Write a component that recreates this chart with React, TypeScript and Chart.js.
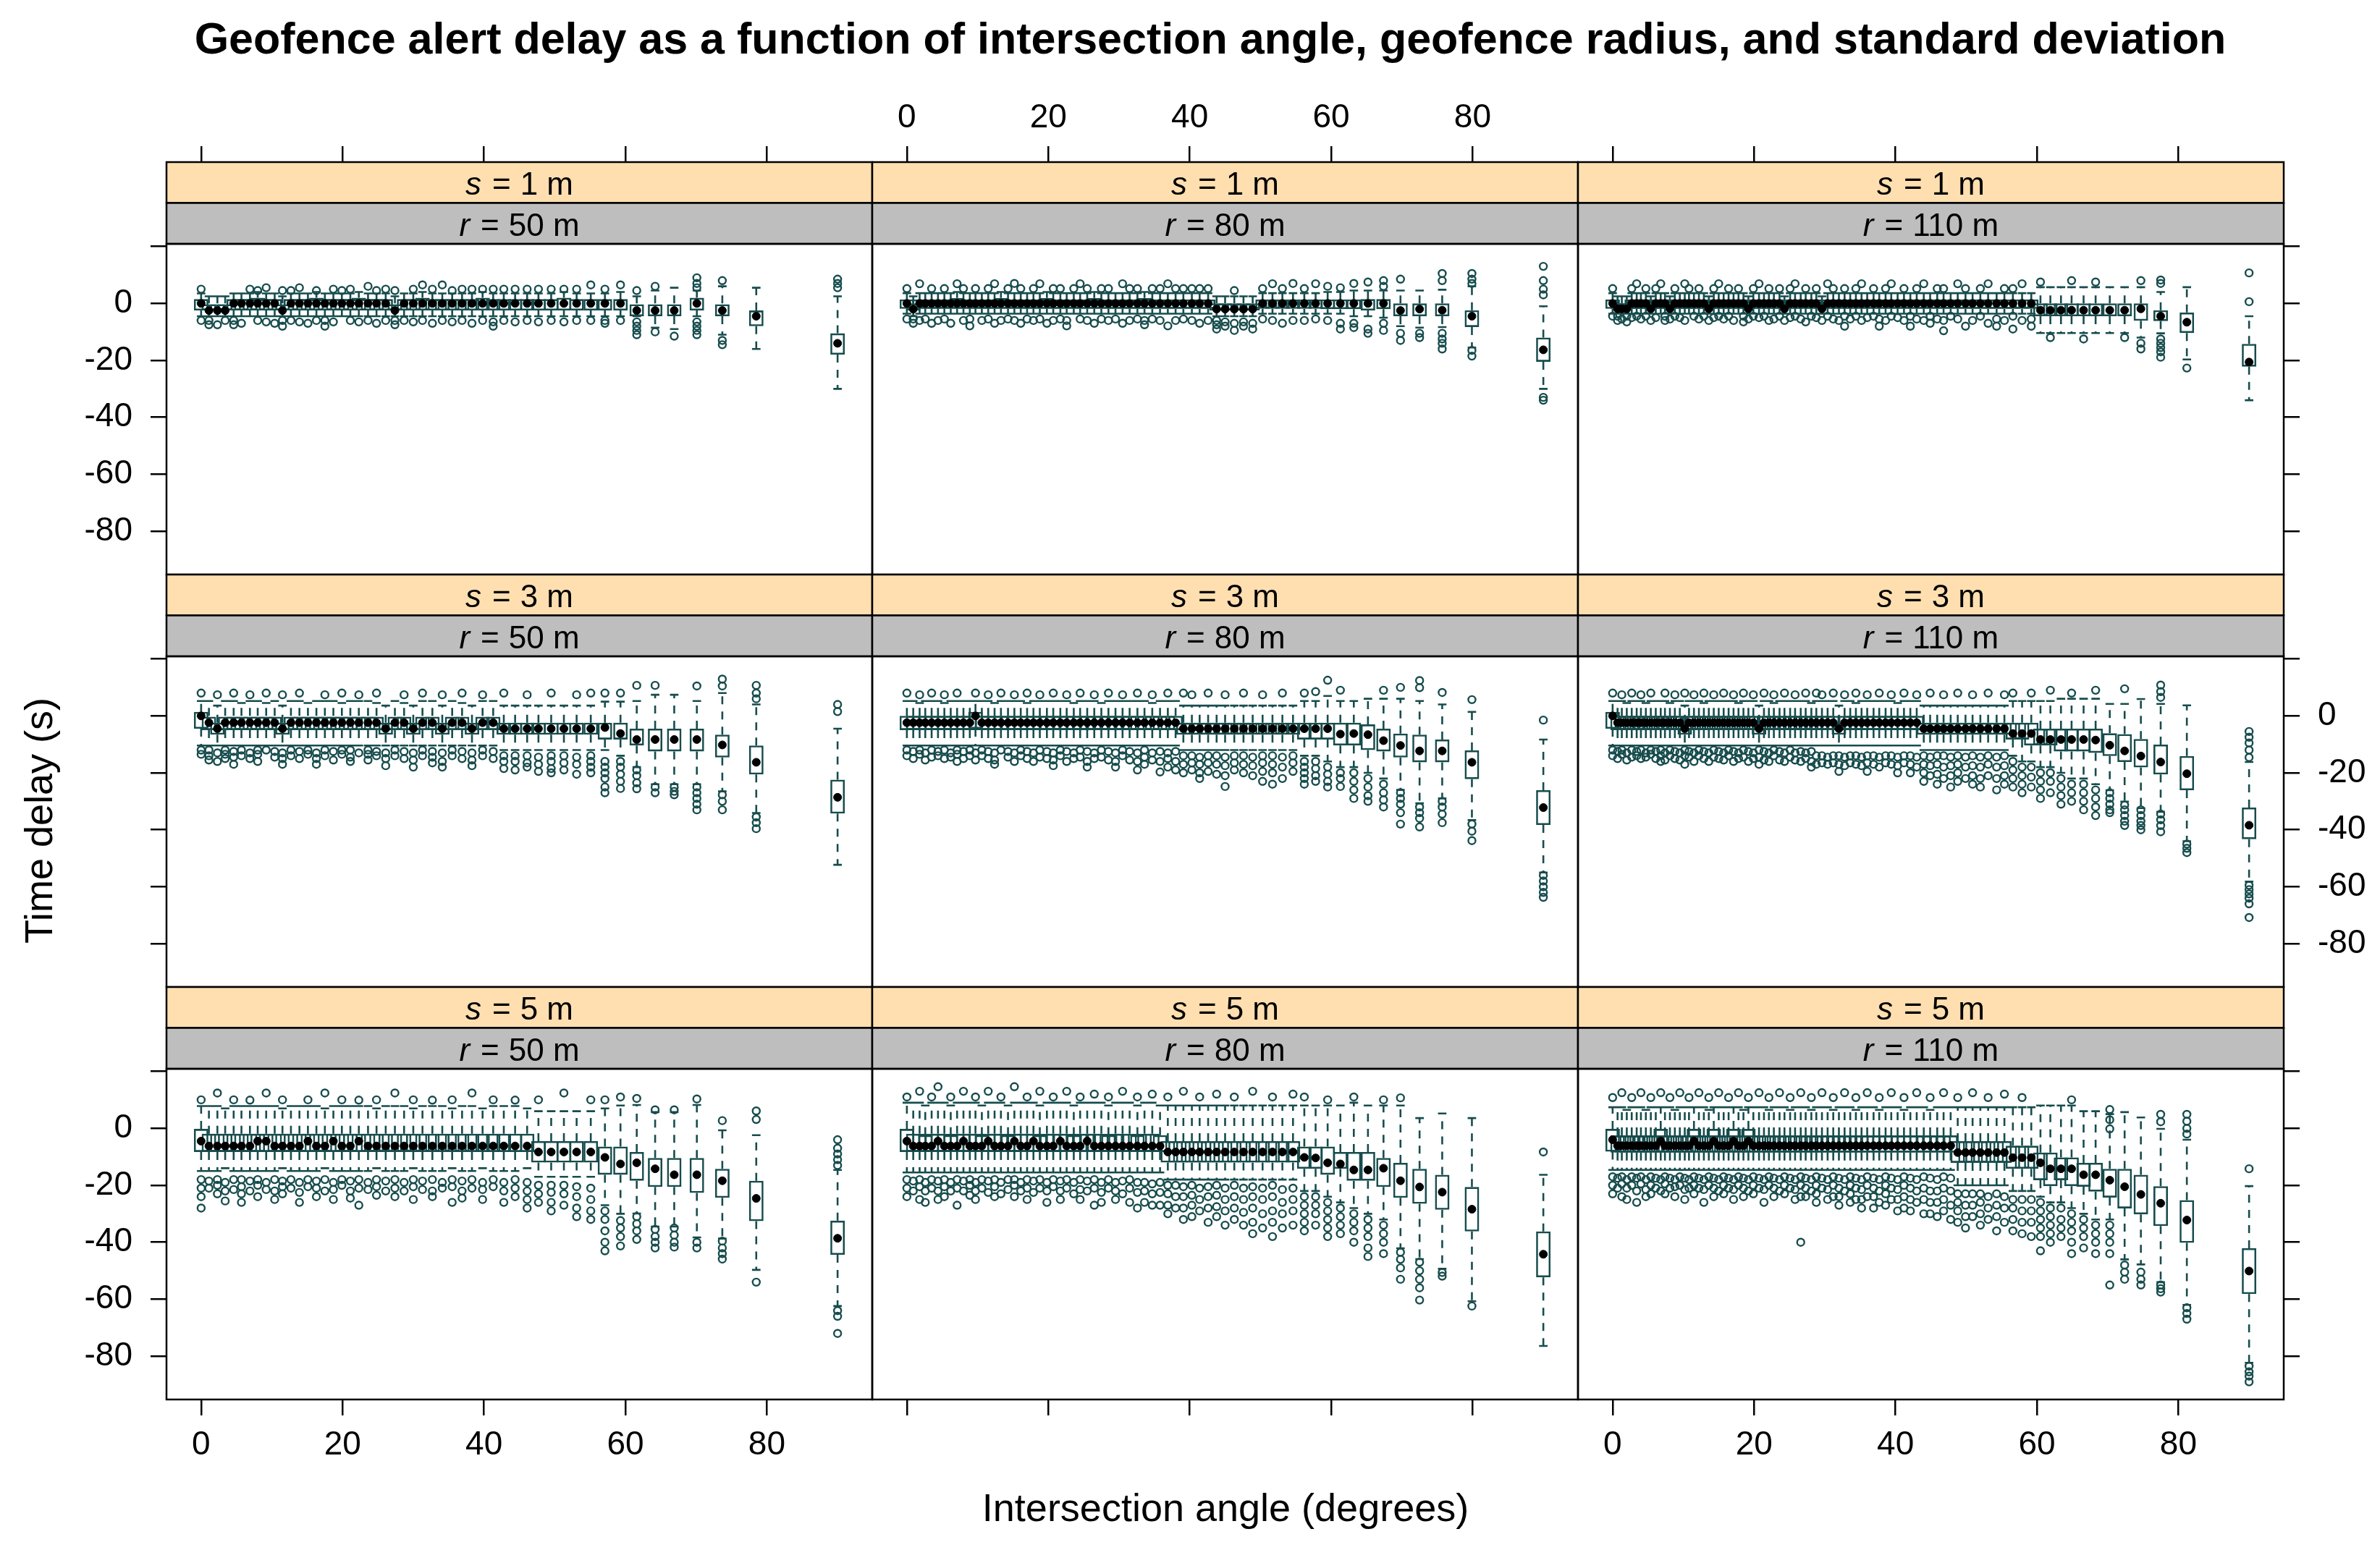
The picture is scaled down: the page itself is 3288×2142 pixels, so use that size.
import React, { useEffect, useRef } from 'react';
import { Chart, registerables } from 'chart.js';

Chart.register(...registerables);

const FONT = "'Liberation Sans', Arial, Helvetica, sans-serif";
const TEAL = '#174C4D';
const STRIP_S_BG = '#FFDFB0';
const STRIP_R_BG = '#BEBEBE';

// ---- layout (px) ----
const PLOT_W = 975;
const PLOT_H = 457;
const STRIP_H = 56.5;
const PLOT_LEFT0 = 230;
const PLOT_TOP0 = 337;
const ROW_PITCH = PLOT_H + 2 * STRIP_H;
const M_L = 140, M_R = 140, M_T = 213, M_B = 100;
const CANVAS_W = PLOT_W + M_L + M_R;
const CANVAS_H = PLOT_H + M_T + M_B;
const BOX_PX = 20;
const CAP_HALF = 0.6;

// ---- axes ----
const X_MIN = -4.9, X_MAX = 94.9;
const Y_MIN = -95.2, Y_MAX = 20.9;
const X_TICKS = [0, 20, 40, 60, 80];
const Y_TICKS = [20, 0, -20, -40, -60, -80];

const SD_LABELS = ['1', '3', '5'];
const RADIUS_LABELS = ['50', '80', '110'];

// ---- intersection angle categories (degrees) ----
const ANGLES_R50 = [0, 1.1, 2.3, 3.4, 4.6, 5.7, 6.9, 8.0, 9.2, 10.4, 11.5, 12.7, 13.9, 15.1, 16.3, 17.5, 18.7, 19.9, 21.1, 22.3, 23.6, 24.8, 26.1, 27.4, 28.7, 30.0, 31.3, 32.7, 34.1, 35.5, 36.9, 38.3, 39.8, 41.3, 42.8, 44.4, 46.1, 47.7, 49.5, 51.3, 53.1, 55.1, 57.1, 59.3, 61.6, 64.2, 66.9, 70.1, 73.7, 78.5, 90];
const ANGLES_R80 = [0, 0.9, 1.8, 2.6, 3.5, 4.4, 5.3, 6.2, 7.1, 8.0, 8.9, 9.7, 10.6, 11.5, 12.4, 13.3, 14.3, 15.2, 16.1, 17.0, 17.9, 18.8, 19.8, 20.7, 21.7, 22.6, 23.6, 24.5, 25.5, 26.5, 27.5, 28.5, 29.5, 30.5, 31.5, 32.6, 33.6, 34.7, 35.8, 36.9, 38.0, 39.1, 40.3, 41.4, 42.6, 43.8, 45.0, 46.3, 47.6, 48.9, 50.3, 51.7, 53.1, 54.6, 56.2, 57.8, 59.5, 61.3, 63.2, 65.2, 67.4, 69.8, 72.5, 75.7, 79.9, 90];
const ANGLES_R110 = [0, 0.7, 1.3, 2.0, 2.7, 3.4, 4.0, 4.7, 5.4, 6.1, 6.8, 7.4, 8.1, 8.8, 9.5, 10.2, 10.8, 11.5, 12.2, 12.9, 13.6, 14.3, 15.0, 15.7, 16.4, 17.1, 17.8, 18.5, 19.2, 19.9, 20.7, 21.4, 22.1, 22.8, 23.6, 24.3, 25.1, 25.8, 26.6, 27.3, 28.1, 28.8, 29.6, 30.4, 31.2, 32.0, 32.8, 33.6, 34.4, 35.2, 36.0, 36.9, 37.7, 38.6, 39.4, 40.3, 41.2, 42.1, 43.0, 44.0, 44.9, 45.9, 46.8, 47.8, 48.8, 49.9, 50.9, 52.0, 53.1, 54.3, 55.4, 56.6, 57.9, 59.2, 60.5, 61.9, 63.4, 64.9, 66.6, 68.3, 70.3, 72.4, 74.7, 77.5, 81.2, 90];

// ---- box statistics per panel: [lower whisker, Q1, median, Q3, upper whisker] ----
const S1_R50 = [
  [-4.5,-2.5,0,1.5,3.5],[-4.5,-2.5,-2.5,0,2.5],[-4.5,-2.5,-2.5,0,2.5],[-4.5,-2.5,-2.5,0,2.5],[-4.5,-2.5,0,1.5,3.5],[-4.5,-2.5,0,1.5,3.5],
  [-4.5,-2.5,0,1.5,3.5],[-4.5,-2.5,0,2,4],[-4.5,-2.5,0,1.5,3.5],[-4.5,-2.5,0,1.5,3.5],[-4.5,-2.5,-2.5,0,2.5],[-4.5,-2.5,0,1.5,3.5],
  [-4.5,-2.5,0,1.5,3.5],[-4.5,-2.5,0,1.5,3.5],[-4.5,-2.5,0,2,4],[-4.5,-2.5,0,1.5,3.5],[-4.5,-2.5,0,1.5,3.5],[-4.5,-2.5,0,1.5,3.5],
  [-4.5,-2.5,0,1.5,3.5],[-4.5,-2.5,0,2,4],[-4.5,-2.5,0,1.5,3.5],[-4.5,-2.5,0,1.5,3.5],[-4.5,-2.5,0,1.5,3.5],[-4.5,-2.5,-2.5,0,2.5],
  [-4.5,-2.5,0,1.5,3.5],[-4.5,-2.5,0,1.5,3.5],[-4.5,-2.5,0,2,4],[-4.5,-2.5,0,1.5,3.5],[-4.5,-2.5,0,1.5,3.5],[-4.5,-2.5,0,1.5,3.5],
  [-4.5,-2.5,0,1.5,3.5],[-4.5,-2.5,0,1.5,3.5],[-4.5,-2.5,0,2,4],[-4.5,-2.5,0,1.5,3.5],[-4.5,-2.5,0,1.5,3.5],[-4.5,-2.5,0,1.5,3.5],
  [-4.5,-2.5,0,1.5,3.5],[-4.5,-2.5,0,1.5,3.5],[-4.5,-2.5,0,1.5,3.5],[-4.5,-2.5,0,2,4],[-4.5,-2.5,0,1.5,3.5],[-4.5,-2.5,0,1.5,3.5],
  [-4.5,-2.5,0,1.5,3.5],[-4.5,-2.5,0,1.5,4],[-4.5,-4.5,-2.5,0,2.5],[-8.5,-4.5,-2.5,0,4.5],[-9,-4.5,-2.5,0,5.5],[-4.5,-2.5,0,2,4.5],
  [-11,-4.5,-2.5,0,6],[-16,-8,-4.5,-2.5,5.5],[-30,-18,-14,-10.5,2.5],
];
const S1_R50_OUT = [
  [5,-6],[-6,-7.5],[-7.5],[-6],[-6,-7.5],[-7],
  [5],[4.5,-6],[5.5,-6.5],[-7],[4.5,-6,-8],[4.5,-6],
  [5.5,-6.5],[-7],[4.5,-6],[-6,-8],[5,-6.5],[4.5],
  [5,-6],[-6.5],[6,-6],[4.5,-7],[5,-6],[4.5,-6,-7.5],
  [-6],[5,-6.5],[6.5,-6],[5,-7],[6.5,-6],[4.5,-6.5],
  [5,-6],[5,-7],[5,-6],[5,-6.5,-8],[5,-6],[5,-6.5],
  [5,-6],[5,-6.5],[5,-6],[5,-6.5],[5,-6],[6.5,-6],
  [5,-6,-7],[6.5,-6],[4.5,-6.5,-8,-9.5,-11],[6,-10],[-11.5],[9,7,5.5,-6.5,-8,-9.5,-11],
  [8,-13,-14.5],[],[8.5,7,5.5],
];

const S1_R80 = [
  [-3.6,-1.9,0,1.4,3.6],[-4.5,-2.5,-2,0,2.5],[-3.6,-1.9,0,1.4,3.6],[-3.6,-1.9,0,1.4,3.6],[-3.6,-1.9,0,1.4,3.6],[-3.6,-1.9,0,1.4,3.6],
  [-3.6,-1.9,0,1.4,3.6],[-3.6,-1.9,0,1.4,3.6],[-3.6,-1.9,0,1.9,4],[-3.6,-1.9,0,1.4,3.6],[-3.6,-1.9,0,1.4,3.6],[-3.6,-1.9,0,1.4,3.6],
  [-3.6,-1.9,0,1.4,3.6],[-3.6,-1.9,0,1.4,3.6],[-3.6,-1.9,0,1.4,3.6],[-3.6,-1.9,0,1.9,4],[-3.6,-1.9,0,1.4,3.6],[-3.6,-1.9,0,1.4,3.6],
  [-3.6,-1.9,0,1.4,3.6],[-3.6,-1.9,0,1.4,3.6],[-3.6,-1.9,0,1.4,3.6],[-3.6,-1.9,0,1.4,3.6],[-3.6,-1.9,0,1.9,4],[-3.6,-1.9,0,1.4,3.6],
  [-3.6,-1.9,0,1.4,3.6],[-3.6,-1.9,0,1.4,3.6],[-3.6,-1.9,0,1.4,3.6],[-3.6,-1.9,0,1.4,3.6],[-3.6,-1.9,0,1.4,3.6],[-3.6,-1.9,0,1.9,4],
  [-3.6,-1.9,0,1.4,3.6],[-3.6,-1.9,0,1.4,3.6],[-3.6,-1.9,0,1.4,3.6],[-3.6,-1.9,0,1.4,3.6],[-3.6,-1.9,0,1.4,3.6],[-3.6,-1.9,0,1.4,3.6],
  [-3.6,-1.9,0,1.9,4],[-3.6,-1.9,0,1.4,3.6],[-3.6,-1.9,0,1.4,3.6],[-3.6,-1.9,0,1.4,3.6],[-3.6,-1.9,0,1.4,3.6],[-3.6,-1.9,0,1.4,3.6],
  [-3.6,-1.9,0,1.4,3.6],[-3.6,-1.9,0,1.4,3.6],[-3.6,-1.9,0,1.4,3.6],[-4.5,-2.5,-2,0,2.5],[-4.5,-2.5,-2,0,2.5],[-4.5,-2.5,-2,0,2.5],
  [-4.5,-2.5,-2,0,2.5],[-4.5,-2.5,-2,0,2.5],[-3.6,-1.9,0,1.4,3.6],[-3.6,-1.9,0,1.4,3.6],[-3.6,-1.9,0,1.4,3.6],[-3.6,-1.9,0,1.4,3.6],
  [-3.6,-1.9,0,1.4,3.6],[-3.6,-1.9,0,1.4,3.6],[-3.6,-2,0,1.4,4],[-3.6,-2,0,1.4,4],[-4.5,-2,0,1.4,4.5],[-4.5,-2.5,0,1.5,4.5],
  [-5,-2,0,1.5,4.5],[-8,-4.5,-2.5,0,4.5],[-8.5,-4.5,-2,0,4.5],[-8.3,-4.5,-2.4,0,4.8],[-15.5,-8.3,-4.5,-2.4,6],[-30,-20.5,-16.3,-12,-1],
];
const S1_R80_OUT = [
  [5.2,-5.5],[-5.5,-7],[6.9,-6],[-5.5],[5.2,-7],[-6],
  [5.2,-5.5],[-7],[6.9],[5.2,-6],[-5.5,-7.9],[5.2],
  [-6],[5.2,-5.5],[6.9,-7],[-6],[5.2,-5.5],[7,-6],
  [5.2,-7],[-5.5],[5.2,-6],[6.9,-5.5],[-7],[5.2,-6],
  [5.2,-5.5],[-6,-7.9],[5.2],[6.9,-5.5],[5.2,-6],[-7],
  [5.2,-5.5],[5.2,-6],[-5.5],[6.9,-7],[5.2,-6],[5.2,-5.5],
  [-6,-7.5],[5.2,-5.5],[5.2,-6],[6.9,-7.9],[5.2,-6],[5.2,-5.5],
  [5.2,-6],[5.2,-7],[5.2,-6],[-6,-7.5,-9],[-6.5,-8],[4.5,-7,-9.5],
  [-6.5,-8],[-7,-9],[5.2,-5.5],[6.9,-6],[5.2,-7],[7,-6],
  [5.2,-6],[6.9,-5.5],[6,-6],[5.5,-7,-9],[7,-7,-8.5],[7.5,-9,-10.5],
  [8,6,-7,-9.5],[8.5,-10.5,-13],[-10.5,-12],[10.5,8,-10.5,-12.5,-14,-16],[10.5,8.5,7,-16.5,-18.5],[13,8,5,3,-33,-34],
];

const S1_R110 = [
  [-3.6,-1.9,0,1.4,3.6],[-3.6,-1.9,-1.9,0,2.5],[-3.6,-1.9,-1.9,0,2.5],[-3.6,-1.9,-1.9,0,2.5],[-3.6,-1.9,0,1.4,3.6],[-3.6,-1.9,0,1.4,3.6],
  [-3.6,-1.9,0,1.4,3.6],[-3.6,-1.9,0,1.4,3.6],[-3.6,-1.9,-1.9,0,2.5],[-3.6,-1.9,0,1.4,3.6],[-3.6,-1.9,0,1.4,3.6],[-3.6,-1.9,0,1.4,3.6],
  [-3.6,-1.9,-1.9,0,2.5],[-3.6,-1.9,0,1.4,3.6],[-3.6,-1.9,0,1.4,3.6],[-3.6,-1.9,0,1.4,3.6],[-3.6,-1.9,0,1.4,3.6],[-3.6,-1.9,0,1.4,3.6],
  [-3.6,-1.9,0,1.4,3.6],[-3.6,-1.9,0,1.4,3.6],[-3.6,-1.9,-1.9,0,2.5],[-3.6,-1.9,0,1.4,3.6],[-3.6,-1.9,0,1.4,3.6],[-3.6,-1.9,0,1.4,3.6],
  [-3.6,-1.9,0,1.4,3.6],[-3.6,-1.9,0,1.4,3.6],[-3.6,-1.9,0,1.4,3.6],[-3.6,-1.9,0,1.4,3.6],[-3.6,-1.9,-1.9,0,2.5],[-3.6,-1.9,0,1.4,3.6],
  [-3.6,-1.9,0,1.4,3.6],[-3.6,-1.9,0,1.4,3.6],[-3.6,-1.9,0,1.4,3.6],[-3.6,-1.9,0,1.4,3.6],[-3.6,-1.9,0,1.4,3.6],[-3.6,-1.9,-1.9,0,2.5],
  [-3.6,-1.9,0,1.4,3.6],[-3.6,-1.9,0,1.4,3.6],[-3.6,-1.9,0,1.4,3.6],[-3.6,-1.9,0,1.4,3.6],[-3.6,-1.9,0,1.4,3.6],[-3.6,-1.9,0,1.4,3.6],
  [-3.6,-1.9,-1.9,0,2.5],[-3.6,-1.9,0,1.4,3.6],[-3.6,-1.9,0,1.4,3.6],[-3.6,-1.9,0,1.4,3.6],[-3.6,-1.9,0,1.4,3.6],[-3.6,-1.9,0,1.4,3.6],
  [-3.6,-1.9,0,1.4,3.6],[-3.6,-1.9,0,1.4,3.6],[-3.6,-1.9,0,1.4,3.6],[-3.6,-1.9,0,1.4,3.6],[-3.6,-1.9,0,1.4,3.6],[-3.6,-1.9,0,1.4,3.6],
  [-3.6,-1.9,0,1.4,3.6],[-3.6,-1.9,0,1.4,3.6],[-3.6,-1.9,0,1.4,3.6],[-3.6,-1.9,0,1.4,3.6],[-3.6,-1.9,0,1.4,3.6],[-3.6,-1.9,0,1.4,3.6],
  [-3.6,-1.9,0,1.4,3.6],[-3.6,-1.9,0,1.4,3.6],[-3.6,-1.9,0,1.4,3.6],[-3.6,-1.9,0,1.4,3.6],[-3.6,-1.9,0,1.4,3.6],[-3.6,-1.9,0,1.4,3.6],
  [-3.6,-1.9,0,1.4,3.6],[-3.6,-1.9,0,1.4,3.6],[-3.6,-1.9,0,1.4,3.6],[-3.6,-1.9,0,1.4,3.6],[-3.6,-1.9,0,1.4,3.6],[-3.6,-1.9,0,1.4,3.6],
  [-3.6,-1.9,0,1.4,3.6],[-3.6,-1.9,0,1.4,3.6],[-10.4,-4.5,-2.4,0,5.7],[-10.4,-4.5,-2.4,0,5.7],[-10.4,-4.5,-2.4,0,5.7],[-10.4,-4.5,-2.4,0,5.7],
  [-10.4,-4.5,-2.4,0,5.7],[-10.4,-4.5,-2.4,0,5.7],[-10.4,-4.5,-2.4,0,5.7],[-10.4,-4.5,-2.4,0,5.7],[-12,-6.1,-1.9,0,5.7],[-10.5,-6.2,-4.5,-2.4,4],
  [-19.7,-10.4,-6.6,-3.2,5.7],[-34,-22.2,-20.6,-14.2,-4.5],
];
const S1_R110_OUT = [
  [5.2,-4.5],[-4.5,-6],[-5.5],[-4.5,-6.5],[5.2,-5],[6.9,-4.5],
  [-5.5],[5.2,-4.5],[-6],[5.2,-5],[6.9],[-4.5,-6],
  [-5.5],[5.2,-4.5],[-5],[6.9,-6],[5.2],[-4.5],
  [5.2,-5.5],[-4.5],[-6],[5.2,-5],[6.9,-4.5],[-5.5],
  [5.2,-4.5],[-6],[5.2],[-4.5,-6.5],[-5.5],[5.2,-4.5],
  [6.9,-5],[-4.5],[5.2,-6],[-5.5],[5.2,-4.5],[-6],
  [5.2,-5],[6.9,-4.5],[-5.5],[5.2,-6.5],[-4.5],[5.2,-5],
  [-6],[6.9,-4.5],[5.2,-5.5],[-6],[5.2,-4.5,-8],[-5.5],
  [5.2,-4.5],[6.9,-6],[-5],[5.2,-4.5],[-5.5,-8],[5.2,-6],
  [6.9,-4.5],[-5],[5.2,-6],[-4.5,-8],[5.2,-5.5],[6.9,-6],
  [-4.5,-7],[5.2,-5.5],[5.2,-6,-9.6],[-4.5],[6.9,-5.5],[5.2,-8],
  [-6],[5.2,-4.5],[6.9,-7],[-5.5,-8],[5.2,-6],[5.2,-4.5,-9],
  [6.9,-6],[-5.5,-8],[7.5],[-12],[],[8],
  [-12.5],[7.5],[],[-12],[8,-14,-16],[8.2,7,-12.5,-14,-15.5,-17,-18.9],
  [-22.7],[10.7,0.6],
];

const S3_R50 = [
  [-10.4,-4.5,0,1.4,5.2],[-10.4,-5,-2.4,0,5.2],[-10.4,-6.6,-4.5,-2.4,3.6],[-10.4,-5,-2.4,0,5.2],[-10.4,-5,-2.4,0,5.2],[-10.4,-5,-2.4,0,4.5],
  [-10.4,-5,-2.4,0,5.2],[-10.4,-5,-2.4,0,5.2],[-10.4,-5,-2.4,0,4.5],[-10.4,-5,-2.4,0,5.2],[-10.4,-6.6,-4.5,-2.4,3.6],[-10.4,-5,-2.4,0,5.2],
  [-10.4,-5,-2.4,0,5.2],[-10.4,-5,-2.4,0,4.5],[-10.4,-5,-2.4,0,5.2],[-10.4,-5,-2.4,0,5.2],[-10.4,-5,-2.4,0,5.2],[-10.4,-5,-2.4,0,4.5],
  [-10.4,-5,-2.4,0,5.2],[-10.4,-5,-2.4,0,5.2],[-10.4,-5,-2.4,0,5.2],[-10.4,-5,-2.4,0,4.5],[-10.4,-6.6,-4.5,-2.4,3.6],[-10.4,-5,-2.4,0,5.2],
  [-10.4,-5,-2.4,0,4.5],[-10.4,-6.6,-4.5,-2.4,3.6],[-10.4,-5,-2.4,0,5.2],[-10.4,-5,-2.4,0,5.2],[-10.4,-6.6,-4.5,-2.4,3.6],[-10.4,-5,-2.4,0,5.2],
  [-10.4,-5,-2.4,0,4.5],[-10.4,-6.6,-4.5,-2.4,3.6],[-10.4,-5,-2.4,0,5.2],[-10.4,-5,-2.4,0,5.2],[-12,-6.6,-4.5,-2.4,3.6],[-12,-6.6,-4.5,-2.4,3.6],
  [-12,-6.6,-4.5,-2.4,3.6],[-12,-6.6,-4.5,-2.4,3.6],[-12,-6.6,-4.5,-2.4,3.6],[-12,-6.6,-4.5,-2.4,3.6],[-12,-6.6,-4.5,-2.4,3.6],[-12,-6.6,-4.5,-2.4,3.6],
  [-12,-8.3,-4.1,-2.4,5],[-14,-8.3,-6.2,-2.4,5],[-18,-10.4,-8.3,-4.5,5.2],[-24,-12.5,-8.3,-4.5,7.4],[-24,-12.5,-8.3,-4.5,7.4],[-24,-12.5,-8.3,-4.5,5.2],
  [-26.5,-14.6,-10.2,-6.6,8],[-34.1,-20.6,-16.3,-10.4,4],[-52.3,-34.3,-28.6,-22.4,-4.5],
];
const S3_R50_OUT = [
  [8,-12,-13.5],[-12,-14,-15.5],[7.4,-13,-16],[-12,-13.5,-15],[8,-12.5,-14.5,-17],[-12,-14],
  [7.4,-13,-15],[-12,-13.5,-16],[8,-12],[-12.5,-14.5],[7.4,-13,-15,-17],[-12,-14],
  [8,-12.5,-15],[-12,-13.5],[-13,-15,-17],[7.4,-12,-14],[-12.5,-15.5],[8,-12,-13.5],
  [-12,-14.5,-16],[7.4,-13],[-12,-13.5,-15.5],[8,-12.5,-14],[-13,-15,-17.5],[-12,-14],
  [7.4,-12.5,-15],[-13,-15.5,-18],[8,-12,-14],[-12.5,-14.5,-16.5],[7.4,-13,-16,-18],[-12,-14],
  [8,-12.5,-15],[-13,-15.5,-17.5],[7.4,-12,-14],[-12.5,-15],[8,-14,-16,-18.5],[-14,-16,-19],
  [7.4,-14,-16.5,-18],[-14.5,-17,-19.5],[8,-14,-16,-18.5,-20],[-14,-16.5,-19],[7.4,-14.5,-17,-20.5],[8,-14,-16,-18,-20],
  [8,-16,-18,-20,-22,-25,-27],[8,-16,-18,-20.5,-23,-25.5],[10.7,-19,-21,-23.5,-25.6],[10.7,-25,-27],[-25,-26.5,-27.7],[10.5,-25,-27,-29,-31,-33],
  [12.9,10.5,-27.7,-30,-33],[10.7,8,6,-35.5,-37.5,-39.6],[4,1.5],
];

const S3_R80 = [
  [-10.4,-5,-2.4,0,5.2],[-10.4,-5,-2.4,0,5.2],[-10.4,-5,-2.4,0,4.5],[-10.4,-5,-2.4,0,5.2],[-10.4,-5,-2.4,0,5.2],[-10.4,-5,-2.4,0,5.2],
  [-10.4,-5,-2.4,0,4.5],[-10.4,-5,-2.4,0,5.2],[-10.4,-5,-2.4,0,5.2],[-10.4,-5,-2.4,0,5.2],[-10.4,-5,-2.4,0,5.2],[-10.4,-4.5,0,1.4,5.2],
  [-10.4,-5,-2.4,0,5.2],[-10.4,-5,-2.4,0,5.2],[-10.4,-5,-2.4,0,4.5],[-10.4,-5,-2.4,0,5.2],[-10.4,-5,-2.4,0,5.2],[-10.4,-5,-2.4,0,5.2],
  [-10.4,-5,-2.4,0,5.2],[-10.4,-5,-2.4,0,4.5],[-10.4,-5,-2.4,0,5.2],[-10.4,-5,-2.4,0,5.2],[-10.4,-5,-2.4,0,5.2],[-10.4,-5,-2.4,0,5.2],
  [-10.4,-5,-2.4,0,5.2],[-10.4,-5,-2.4,0,5.2],[-10.4,-5,-2.4,0,4.5],[-10.4,-5,-2.4,0,5.2],[-10.4,-5,-2.4,0,5.2],[-10.4,-5,-2.4,0,5.2],
  [-10.4,-5,-2.4,0,4.5],[-10.4,-5,-2.4,0,5.2],[-10.4,-5,-2.4,0,5.2],[-10.4,-5,-2.4,0,5.2],[-10.4,-5,-2.4,0,5.2],[-10.4,-5,-2.4,0,5.2],
  [-10.4,-5,-2.4,0,5.2],[-10.4,-5,-2.4,0,4.5],[-10.4,-5,-2.4,0,5.2],[-10.4,-5,-2.4,0,5.2],[-10.4,-5,-2.4,0,5.2],[-12,-6.6,-4.5,-2.4,3.6],
  [-12,-6.6,-4.5,-2.4,3.6],[-12,-6.6,-4.5,-2.4,3.6],[-12,-6.6,-4.5,-2.4,3.6],[-12,-6.6,-4.5,-2.4,3.6],[-12,-6.6,-4.5,-2.4,3.6],[-12,-6.6,-4.5,-2.4,3.6],
  [-12,-6.6,-4.5,-2.4,3.6],[-12,-6.6,-4.5,-2.4,3.6],[-12,-6.6,-4.5,-2.4,3.6],[-12,-6.6,-4.5,-2.4,3.6],[-12,-6.6,-4.5,-2.4,3.6],[-12,-6.6,-4.5,-2.4,3.6],
  [-14,-8.3,-4.5,-2.4,5.2],[-14,-8.3,-4.5,-2.4,5.2],[-16,-8.3,-4.5,-2.4,7],[-18,-10.4,-6.4,-2.4,5.2],[-18,-10.4,-6.2,-2.4,5.2],[-20,-12,-6.6,-3,6],
  [-22,-12.5,-8.7,-4.5,6],[-26,-14.6,-10.4,-6.2,6],[-30.7,-16.3,-12.3,-6.6,5.2],[-29,-16.3,-12.3,-8.3,4],[-36.6,-22.2,-16.3,-12.1,1.4],[-55,-38.3,-32.2,-26.1,-8.3],
];
const S3_R80_OUT = [
  [8,-12,-14],[-12.5,-15],[7.4,-12,-13.5],[-13,-15.5],[8,-12,-14.5],[-12.5,-14],
  [7.4,-12,-15],[-13,-14.5],[8,-12,-13.5,-16],[-12.5,-15],[-12,-14],[8,-13,-15.5],
  [-12,-14],[7.4,-12.5,-15],[-13,-15.5,-17],[8,-12],[-12.5,-14.5],[7.4,-13,-16],
  [-12,-14],[8,-12.5,-15],[-13,-16],[7.4,-12,-14.5],[-12.5,-15],[8,-13,-15.5,-17.5],
  [-12,-14],[7.4,-12.5,-16],[-13,-15],[8,-12,-14.5],[-12.5,-16,-18],[7.4,-13,-15],
  [-12,-14.5],[8,-12.5,-15.5],[-13,-16,-18],[7.4,-12,-14],[-12.5,-15.5],[8,-13,-16,-19],
  [-12,-14.5,-17],[7.4,-13,-15.5],[-12.5,-16,-19.7],[8,-13,-15,-18],[-12.5,-16,-19],[8,-14,-17,-20],
  [7.4,-14,-16.5,-19],[-14.5,-17,-20,-22],[8,-14,-16.5,-19.5],[-14,-17,-20.5],[7.4,-14.5,-17.5,-21,-24.8],[-14,-16.5,-19],
  [8,-14,-17,-20],[-14.5,-17.5,-21],[7.4,-14,-16.5,-19.5,-23],[-14,-17,-20,-24],[8,-14.5,-18,-22],[-14,-16.5,-19.5],
  [8,-16,-18,-20,-22,-24],[8.5,-16,-18.5,-21,-23],[12.5,-18,-20.5,-23,-25],[9,-20,-22,-24.8],[-20,-23,-26,-29],[-22,-25,-28,-30],
  [9,-24,-27,-29.5,-32],[10,-27,-29,-31,-34,-38],[12.4,9.9,-32,-34,-36,-39],[8.2,-30,-32,-34.5,-37.5],[5.7,-38,-40.5,-43.8],[-1.5,-56,-58,-60,-62,-63.7],
];

const S3_R110 = [
  [-10.4,-4.5,0,1.4,5.2],[-10.4,-5,-2.4,0,5.2],[-10.4,-5,-2.4,0,5.2],[-10.4,-5,-2.4,0,4.5],[-10.4,-5,-2.4,0,5.2],[-10.4,-5,-2.4,0,5.2],
  [-10.4,-5,-2.4,0,5.2],[-10.4,-5,-2.4,0,4.5],[-10.4,-5,-2.4,0,5.2],[-10.4,-5,-2.4,0,5.2],[-10.4,-5,-2.4,0,5.2],[-10.4,-5,-2.4,0,5.2],
  [-10.4,-5,-2.4,0,4.5],[-10.4,-5,-2.4,0,5.2],[-10.4,-5,-2.4,0,5.2],[-10.4,-6.6,-4.5,-2.4,3.6],[-10.4,-5,-2.4,0,5.2],[-10.4,-5,-2.4,0,5.2],
  [-10.4,-5,-2.4,0,5.2],[-10.4,-5,-2.4,0,4.5],[-10.4,-5,-2.4,0,5.2],[-10.4,-5,-2.4,0,5.2],[-10.4,-5,-2.4,0,5.2],[-10.4,-5,-2.4,0,5.2],
  [-10.4,-5,-2.4,0,5.2],[-10.4,-5,-2.4,0,5.2],[-10.4,-5,-2.4,0,4.5],[-10.4,-5,-2.4,0,5.2],[-10.4,-5,-2.4,0,5.2],[-10.4,-5,-2.4,0,5.2],
  [-10.4,-6.6,-4.5,-2.4,3.6],[-10.4,-5,-2.4,0,5.2],[-10.4,-5,-2.4,0,5.2],[-10.4,-5,-2.4,0,4.5],[-10.4,-5,-2.4,0,5.2],[-10.4,-5,-2.4,0,5.2],
  [-10.4,-5,-2.4,0,5.2],[-10.4,-5,-2.4,0,5.2],[-10.4,-5,-2.4,0,5.2],[-10.4,-5,-2.4,0,5.2],[-10.4,-5,-2.4,0,4.5],[-10.4,-5,-2.4,0,5.2],
  [-10.4,-5,-2.4,0,5.2],[-10.4,-5,-2.4,0,5.2],[-10.4,-5,-2.4,0,5.2],[-10.4,-6.6,-4.5,-2.4,3.6],[-10.4,-5,-2.4,0,5.2],[-10.4,-5,-2.4,0,5.2],
  [-10.4,-5,-2.4,0,4.5],[-10.4,-5,-2.4,0,5.2],[-10.4,-5,-2.4,0,5.2],[-10.4,-5,-2.4,0,5.2],[-10.4,-5,-2.4,0,5.2],[-10.4,-5,-2.4,0,5.2],
  [-10.4,-5,-2.4,0,5.2],[-10.4,-5,-2.4,0,4.5],[-10.4,-5,-2.4,0,5.2],[-10.4,-5,-2.4,0,5.2],[-10.4,-5,-2.4,0,5.2],[-12,-6.6,-4.5,-2.4,3.6],
  [-12,-6.6,-4.5,-2.4,3.6],[-12,-6.6,-4.5,-2.4,3.6],[-12,-6.6,-4.5,-2.4,3.6],[-12,-6.6,-4.5,-2.4,3.6],[-12,-6.6,-4.5,-2.4,3.6],[-12,-6.6,-4.5,-2.4,3.6],
  [-12,-6.6,-4.5,-2.4,3.6],[-12,-6.6,-4.5,-2.4,3.6],[-12,-6.6,-4.5,-2.4,3.6],[-12,-6.6,-4.5,-2.4,3.6],[-12,-6.6,-4.5,-2.4,3.6],[-14,-8.3,-6.2,-2.4,5.2],
  [-16,-8.3,-6.2,-2.4,5.2],[-16,-10.4,-6.2,-2.4,5.2],[-18,-10.4,-8.3,-4.5,5.2],[-18,-10.4,-8.3,-4.5,5.2],[-20,-12.5,-8.3,-4.5,6],[-22,-12.5,-8.3,-4.5,6],
  [-22,-12.5,-8.3,-4.5,6],[-24,-13,-8.5,-4.5,6],[-26.1,-14.1,-10.3,-6.1,4.2],[-30.1,-16.2,-12.3,-6.4,4.2],[-32.4,-18.1,-14.1,-8.1,5.9],[-33.7,-20.6,-16.2,-10.1,4.2],
  [-44,-26.1,-20.3,-14.1,3.7],[-58.2,-43.3,-38.4,-32.2,-16.2],
];
const S3_R110_OUT = [
  [8,-12,-14],[-12.5,-15],[7.4,-12,-13.5],[-13,-15.5],[8,-12,-14.5],[-12.5,-14],
  [7.4,-12,-15],[-13,-14.5],[8,-12,-13.5],[-12.5,-15],[-12,-14,-16],[8,-13,-15.5],
  [-12,-14],[7.4,-12.5,-15],[-13,-15.5],[8,-12,-14,-17],[-12.5,-14.5],[7.4,-13,-16],
  [-12,-14],[8,-12.5,-15],[-13,-16],[7.4,-12,-14.5],[-12.5,-15],[8,-13,-15.5],
  [-12,-14],[7.4,-12.5,-16],[-13,-15],[8,-12,-14.5],[-12.5,-16],[7.4,-13,-15],
  [-12,-14.5,-17],[8,-12.5,-15.5],[-13,-16],[7.4,-12,-14],[-12.5,-15.5],[8,-13,-16],
  [-12,-14.5],[7.4,-13,-15.5],[-12.5,-16],[8,-13,-15],[-12.5,-16,-18],[8,-14,-17],
  [7.4,-14,-16.5],[-14.5,-17],[8,-14,-16.5],[-14,-17,-19.5],[7.4,-14.5,-17.5],[-14,-16.5],
  [8,-14,-17],[-14.5,-17.5],[7.4,-14,-16.5,-19.5],[-14,-17],[8,-14.5,-18],[-14,-16.5],
  [7.4,-14,-17],[-14.5,-17.5,-20],[8,-14,-16.5],[-14,-17,-20],[7.4,-14.5,-18],[-14,-17,-20,-23],
  [8,-14.5,-17.5,-21],[-14,-17,-20.5,-24],[7.4,-14,-18,-22],[-14.5,-17.5,-21,-25],[8,-14,-17,-20,-23],[-14.5,-18,-22],
  [7.4,-14,-17.5,-21,-24],[-14.5,-18,-22,-25],[8,-14,-17,-21],[-14.5,-18,-22,-26],[7.4,-14,-17.5,-21,-24],[8,-16,-19,-22,-25],
  [-18,-21,-24,-27],[8,-18,-21.5,-25],[-20,-23,-26,-29],[9,-20,-23,-27],[-22,-25,-28,-31],[8,-24,-27,-30],
  [-24,-27,-30,-33],[9,-26,-29,-32,-35],[-27,-29,-31,-33,-34],[9.5,-31.3,-33,-35,-37,-38.5],[-33,-35,-37,-38.5,-40],[10.8,8.5,6.5,-34.5,-36.5,-38.5,-40.7],
  [-45,-46.5,-48],[-5.5,-7.5,-9.5,-12,-14.6,-59.5,-61,-62.5,-64,-66,-70.8],
];

const S5_R50 = [
  [-15,-8.3,-4.5,-0.2,7.8],[-15,-8.3,-6.2,-1.9,7.8],[-15,-8.3,-6.2,-1.9,7.8],[-14,-8.3,-6.2,-1.9,7],[-15,-8.3,-6.2,-1.9,7.8],[-15,-8.3,-6.2,-1.9,7.8],
  [-15,-8.3,-6.2,-1.9,7.8],[-15,-8.3,-4.5,-1.9,7.8],[-15,-8.3,-4.5,-1.9,7.8],[-15,-8.3,-6.2,-1.9,7.8],[-14,-8.3,-6.2,-1.9,7],[-15,-8.3,-6.2,-1.9,7.8],
  [-15,-8.3,-6.2,-1.9,7.8],[-15,-8.3,-4.5,-1.9,7.8],[-15,-8.3,-6.2,-1.9,7.8],[-14,-8.3,-6.2,-1.9,7],[-15,-8.3,-4.5,-1.9,7.8],[-15,-8.3,-6.2,-1.9,7.8],
  [-15,-8.3,-6.2,-1.9,7.8],[-15,-8.3,-4.5,-1.9,7.8],[-15,-8.3,-6.2,-1.9,7.8],[-14,-8.3,-6.2,-1.9,7],[-15,-8.3,-6.2,-1.9,7.8],[-15,-8.3,-6.2,-1.9,7.8],
  [-15,-8.3,-6.2,-1.9,7.8],[-14,-8.3,-6.2,-1.9,7],[-15,-8.3,-6.2,-1.9,7.8],[-15,-8.3,-6.2,-1.9,7.8],[-15,-8.3,-6.2,-1.9,7.8],[-14,-8.3,-6.2,-1.9,7],
  [-15,-8.3,-6.2,-1.9,7.8],[-15,-8.3,-6.2,-1.9,7.8],[-14,-8.3,-6.2,-1.9,7],[-15,-8.3,-6.2,-1.9,7.8],[-15,-8.3,-6.2,-1.9,7.8],[-15,-8.3,-6.2,-1.9,7.8],
  [-14,-8.3,-6.2,-1.9,7],[-17,-12,-8.3,-4.5,6],[-17,-12,-8.3,-4.5,6],[-17,-12,-8.3,-4.5,6],[-17,-12,-8.3,-4.5,6],[-17,-12,-8.3,-4.5,6],
  [-27,-16.3,-10.2,-6.4,7],[-30,-16.3,-12.5,-6.4,8],[-29.9,-18.4,-12.1,-8.3,8.2],[-34.5,-20.6,-14.2,-10.4,5.7],[-34.5,-20.6,-16.3,-10.4,5.7],[-38.3,-22.7,-16.3,-10.4,8.2],
  [-38.7,-24.4,-18.4,-14.2,-0.7],[-49.7,-32.6,-24.6,-18.4,-2.4],[-62.4,-44.4,-38.6,-32.4,-14.6],
];
const S5_R50_OUT = [
  [10,-18,-21,-24,-28],[-18.5,-21],[12.4,-18,-20,-23],[-19,-22,-25.5],[10,-18,-21.5],[-18,-20.5,-23,-26],
  [9.9,-18.5,-22],[-18,-20,-24],[12.4,-19,-21.5],[-18,-22,-25],[10,-18.5,-20.5,-23],[-18,-21],
  [-19,-22.5,-26],[10,-18,-20.5],[-18.5,-21,-24],[12.4,-18,-22],[-19,-21.5,-25],[10,-18,-20],
  [-18.5,-22,-24.5],[9.9,-18,-21,-27],[-19,-21.5],[10,-18,-20.5,-23.5],[-18.5,-22],[12.4,-18,-21,-24],
  [-19,-22],[10,-18,-20.5,-25],[-18.5,-21.5],[9.9,-18,-22,-24],[-19,-21],[10,-18,-20.5,-26],
  [-18.5,-22,-24.5],[12.4,-18,-21],[-19,-21.5,-25],[10,-18,-20.5],[-19,-22,-26],[9.9,-18,-21,-24],
  [-19,-22,-25,-28],[10,-20,-23,-26],[-20,-22.5,-26,-29],[12.4,-20,-23,-27],[-20.5,-24,-28,-31],[10,-21,-25,-29,-32],
  [10,-29,-32,-36,-40,-43],[11,-32.4,-35,-38,-41.3],[10.5,-31,-33.5,-36,-39],[6.5,-35.5,-38,-40,-42],[6.5,-35,-37.5,-40,-41.7],[10.3,-40,-42],
  [2.7,-39.6,-42,-44,-45.9],[6.1,3.1,-54],[-4,-7,-9,-11,-13,-64,-66,-72],
];

const S5_R80 = [
  [-15.5,-8.3,-4.5,-0.2,9],[-15.5,-8.3,-6.2,-1.9,9],[-15.5,-8.3,-6.2,-1.9,9],[-15.5,-8.3,-6.2,-2.4,8],[-15.5,-8.3,-6.2,-1.9,9],[-15.5,-8.3,-4.5,-1.9,9],
  [-15.5,-8.3,-6.2,-1.9,9],[-15.5,-8.3,-6.2,-2.4,8],[-15.5,-8.3,-6.2,-1.9,9],[-15.5,-8.3,-4.5,-1.9,9],[-15.5,-8.3,-6.2,-1.9,9],[-15.5,-8.3,-6.2,-1.9,9],
  [-15.5,-8.3,-6.2,-2.4,8],[-15.5,-8.3,-4.5,-1.9,9],[-15.5,-8.3,-6.2,-1.9,9],[-15.5,-8.3,-6.2,-1.9,9],[-15.5,-8.3,-6.2,-2.4,8],[-15.5,-8.3,-4.5,-1.9,9],
  [-15.5,-8.3,-6.2,-1.9,9],[-15.5,-8.3,-6.2,-1.9,9],[-15.5,-8.3,-4.5,-1.9,9],[-15.5,-8.3,-6.2,-2.4,8],[-15.5,-8.3,-6.2,-1.9,9],[-15.5,-8.3,-6.2,-1.9,9],
  [-15.5,-8.3,-4.5,-1.9,9],[-15.5,-8.3,-6.2,-1.9,9],[-15.5,-8.3,-6.2,-2.4,8],[-15.5,-8.3,-6.2,-1.9,9],[-15.5,-8.3,-4.5,-1.9,9],[-15.5,-8.3,-6.2,-1.9,9],
  [-15.5,-8.3,-6.2,-1.9,9],[-15.5,-8.3,-6.2,-2.4,8],[-15.5,-8.3,-6.2,-1.9,9],[-15.5,-8.3,-6.2,-1.9,9],[-15.5,-8.3,-6.2,-1.9,9],[-15.5,-8.3,-6.2,-2.4,8],
  [-15.5,-8.3,-6.2,-1.9,9],[-15.5,-8.3,-6.2,-1.9,9],[-15.5,-8.3,-6.2,-2.4,8],[-18,-12,-8.3,-4.5,8],[-18,-12,-8.3,-4.5,8],[-18,-12,-8.3,-4.5,8],
  [-18,-12,-8.3,-4.5,8],[-18,-12,-8.3,-4.5,8],[-18,-12,-8.3,-4.5,8],[-18,-12,-8.3,-4.5,8],[-18,-12,-8.3,-4.5,8],[-18,-12,-8.3,-4.5,8],
  [-18,-12,-8.3,-4.5,8],[-18,-12,-8.3,-4.5,8],[-18,-12,-8.3,-4.5,8],[-18,-12,-8.3,-4.5,8],[-18,-12,-8.3,-4.5,8],[-18,-12,-8.3,-4.5,8],
  [-22,-14.2,-10.2,-6.4,8],[-22,-14.2,-10.4,-6.4,8],[-24,-16.3,-12.1,-6.4,8],[-26,-14.2,-12.5,-8.3,8],[-28,-18.4,-14.6,-8.3,9],[-30,-18.4,-14.6,-8.3,8],
  [-32,-20.6,-14,-10.4,8],[-42.1,-24.4,-18.4,-12.1,8],[-45.9,-26.5,-20.6,-14.2,3.6],[-49.3,-28.6,-22.4,-16.3,5.2],[-60.7,-36.2,-28.4,-20.6,3.6],[-76.4,-52.3,-44.2,-36.2,-16.3],
];
const S5_R80_OUT = [
  [11,-18,-21,-24],[-18.5,-22],[13,-18,-20.5,-25],[-19,-22,-26],[11,-18,-21],[14.6,-18.5,-22,-25],
  [-18,-20.5,-24],[11,-19,-22],[-18,-21,-27],[13,-18.5,-22],[-18,-20,-23.5],[11,-19,-22,-25],
  [-18,-21],[13,-18.5,-22.5],[-18,-20.5,-24],[11,-19,-23],[-18,-21.5],[14.6,-18,-20,-24],
  [-19,-22],[11,-18,-21,-25],[-18.5,-22.5],[13,-18,-21],[-19,-22,-26],[11,-18,-20.5],
  [-18.5,-22,-25],[13,-18,-21],[-19,-23],[11,-18,-21.5,-25],[-18.5,-22],[12,-18,-21,-27],
  [-19,-22.5,-26],[11,-18,-21],[-19,-22,-25],[13,-18.5,-23],[-18,-21,-26],[11,-19,-22.5,-28],
  [-19,-22,-26],[12,-19.5,-23,-27],[-19,-22.5,-27],[11,-20,-23,-27,-30],[-20,-24,-28],[13,-20.5,-24,-28,-32],
  [-20,-23.5,-27,-31],[11,-21,-25,-29],[-20.5,-24,-28,-33],[12,-20,-23.5,-27.5,-31],[-21,-25,-29,-34],[11,-20,-24,-28,-32],
  [-21,-25,-29.5,-34],[13,-20.5,-24,-28,-33,-37],[-21,-25,-30,-35],[11,-20,-24,-29,-33,-38],[-21.5,-26,-30,-35],[12,-21,-25,-29,-34],
  [11,-24,-27,-30,-33,-36],[-24,-27,-30,-34],[10,-26,-29,-32,-35,-38],[-28,-31,-34,-37],[11,-30,-33,-36,-40],[-32,-35,-38,-42,-45],
  [10,-34,-37,-40,-44],[10.7,-43.5,-46,-49,-53],[-47,-50,-53,-56,-60.3],[-50.6,-51.9],[-62.4],[-8.3],
];

const S5_R110 = [
  [-14.6,-8.2,-4,-0.2,7.4],[-14.6,-8.5,-6.1,-2.5,7.4],[-14.6,-8.5,-6.1,-2.5,7.4],[-14.6,-8.5,-6.1,-2.5,6.5],[-14.6,-8.5,-6.1,-2.5,7.4],[-14.6,-8.5,-6.1,-2.5,7.4],
  [-14.6,-8.5,-6.1,-2.5,7.4],[-14.6,-8.5,-6.1,-2.5,6.5],[-14.6,-8.5,-6.1,-2.5,7.4],[-14.6,-8.5,-6.1,-2.5,7.4],[-14.6,-8.5,-4.5,-0.2,7.4],[-14.6,-8.5,-6.1,-2.5,7.4],
  [-14.6,-8.5,-6.1,-2.5,7.4],[-14.6,-8.5,-6.1,-2.5,6.5],[-14.6,-8.5,-6.1,-2.5,7.4],[-14.6,-8.5,-6.1,-2.5,7.4],[-14.6,-8.5,-6.1,-2.5,7.4],[-14.6,-8.5,-4.5,-0.2,7.4],
  [-14.6,-8.5,-6.1,-2.5,7.4],[-14.6,-8.5,-6.1,-2.5,7.4],[-14.6,-8.5,-6.1,-2.5,6.5],[-14.6,-8.5,-4.5,-0.2,7.4],[-14.6,-8.5,-6.1,-2.5,7.4],[-14.6,-8.5,-6.1,-2.5,7.4],
  [-14.6,-8.5,-6.1,-2.5,7.4],[-14.6,-8.5,-4.5,-0.2,7.4],[-14.6,-8.5,-6.1,-2.5,7.4],[-14.6,-8.5,-6.1,-2.5,6.5],[-14.6,-8.5,-4.5,-0.2,7.4],[-14.6,-8.5,-6.1,-2.5,7.4],
  [-14.6,-8.5,-6.1,-2.5,7.4],[-14.6,-8.5,-6.1,-2.5,7.4],[-14.6,-8.5,-6.1,-2.5,6.5],[-14.6,-8.5,-6.1,-2.5,7.4],[-14.6,-8.5,-6.1,-2.5,7.4],[-14.6,-8.5,-6.1,-2.5,7.4],
  [-14.6,-8.5,-6.1,-2.5,6.5],[-14.6,-8.5,-6.1,-2.5,7.4],[-14.6,-8.5,-6.1,-2.5,7.4],[-14.6,-8.5,-6.1,-2.5,7.4],[-14.6,-8.5,-6.1,-2.5,6.5],[-14.6,-8.5,-6.1,-2.5,7.4],
  [-14.6,-8.5,-6.1,-2.5,7.4],[-14.6,-8.5,-6.1,-2.5,7.4],[-14.6,-8.5,-6.1,-2.5,6.5],[-14.6,-8.5,-6.1,-2.5,7.4],[-14.6,-8.5,-6.1,-2.5,7.4],[-14.6,-8.5,-6.1,-2.5,7.4],
  [-14.6,-8.5,-6.1,-2.5,6.5],[-14.6,-8.5,-6.1,-2.5,7.4],[-14.6,-8.5,-6.1,-2.5,7.4],[-14.6,-8.5,-6.1,-2.5,7.4],[-14.6,-8.5,-6.1,-2.5,6.5],[-14.6,-8.5,-6.1,-2.5,7.4],
  [-14.6,-8.5,-6.1,-2.5,7.4],[-14.6,-8.5,-6.1,-2.5,7.4],[-14.6,-8.5,-6.1,-2.5,6.5],[-14.6,-8.5,-6.1,-2.5,7.4],[-14.6,-8.5,-6.1,-2.5,7.4],[-14.6,-8.5,-6.1,-2.5,7.4],
  [-14.6,-8.5,-6.1,-2.5,6.5],[-14.6,-8.5,-6.1,-2.5,7.4],[-14.6,-8.5,-6.1,-2.5,7.4],[-14.6,-8.5,-6.1,-2.5,7.4],[-20,-12.1,-8.5,-4.5,7.4],[-20,-12.1,-8.5,-4.5,7.4],
  [-20,-12.1,-8.5,-4.5,7.4],[-20,-12.1,-8.5,-4.5,7.4],[-20,-12.1,-8.5,-4.5,7.4],[-20,-12.1,-8.5,-4.5,7.4],[-20,-12.1,-8.5,-4.5,7.4],[-22,-14.2,-10.3,-6.1,7.4],
  [-22,-14.2,-10.3,-6.1,7.4],[-22,-14.2,-10.3,-6.1,7.4],[-24,-18.2,-12.1,-8.5,8],[-26,-20.3,-14.2,-8.5,8],[-26,-18.2,-14.2,-10.2,8],[-28,-20.3,-14.2,-10.2,8],
  [-30,-20.5,-16.3,-12.1,6],[-32,-22.2,-16.3,-12.1,6],[-32,-24.3,-18.2,-14.2,5],[-46,-28.1,-20.5,-14.2,5.7],[-47.8,-30.2,-23.2,-16.3,3.8],[-54,-34.3,-26.3,-20.3,-0.2],
  [-62,-40.2,-32.2,-25.2,-4],[-82.3,-58.2,-50.1,-42.1,-20.3],
];
const S5_R110_OUT = [
  [10.8,-17,-20,-23],[-17.5,-21],[12.5,-17,-19.5,-24],[-18,-21,-25],[10.8,-17,-20],[-17.5,-22,-26],
  [12.5,-17,-19.5],[-18,-21.5,-24],[10.8,-17,-20,-23],[-17.5,-21],[12.5,-18,-22],[-17,-19.5,-23],
  [10.8,-17.5,-21],[-18,-20.5,-24],[12.5,-17,-20],[-17.5,-21.5,-25],[10.8,-18,-21],[-17,-20,-23],
  [12.5,-17.5,-21],[-18,-21.5,-26],[10.8,-17,-20],[-17.5,-21,-24],[12.5,-18,-22],[-17,-20,-23],
  [10.8,-17.5,-21],[-18,-21.5,-25],[12.5,-17,-20],[-17.5,-21,-24],[10.8,-18,-22],[-17,-20,-23],
  [12.5,-17.5,-21],[-18,-21.5,-26],[10.8,-17,-20],[-17.5,-21,-24],[12.5,-18,-22],[-17,-20,-23],
  [10.8,-17.5,-21],[-18,-21.5,-25],[12.5,-17,-20,-24,-40],[-17.5,-21,-24],[10.8,-18,-22],[-17,-20,-23,-26],
  [12.5,-17.5,-21],[-18,-21.5,-25],[10.8,-17,-20,-24],[-17.5,-21,-24,-27],[12.5,-18,-22],[-17,-20,-23,-26],
  [10.8,-17.5,-21,-25],[-18,-21.5,-25,-28],[12.5,-17,-20,-24],[-17.5,-21,-24,-28],[10.8,-18,-22,-26],[-17,-20,-23,-27],
  [12.5,-17.5,-21,-25],[-18,-21.5,-25,-29],[10.8,-17,-20,-24,-28],[-17.5,-21,-25,-29],[12.5,-18,-22,-26],[-17,-21,-25,-30],
  [10.8,-17.5,-22,-26,-30],[-18,-22,-26,-31],[12.5,-17,-21,-25,-29],[-17.5,-22,-27,-32],[10.8,-23,-26,-29,-33],[-23,-27,-31,-35],
  [12.5,-23,-27,-31],[-23,-26,-30,-34],[10.8,-24,-28,-32],[-23,-27,-31,-36],[12,-24,-28,-33],[-25,-28,-32,-36],
  [10.8,-25,-29,-33,-37],[-25,-29,-33,-38],[-26,-29,-32,-35,-38,-43],[-28,-31,-34,-37,-40],[-28,-32,-35,-38],[10,-30,-33,-36,-40,-44],
  [-32,-35,-38,-42],[-34,-37,-40,-44],[6.6,3,-0.2,-34,-37,-40,-44,-55],[-48,-50.5,-53],[-50.5,-53,-55],[4.9,2.3,-55,-56.3,-57.5],
  [4.9,2.5,0,-2,-63,-65,-67],[-14.2,-83.5,-85.5,-87,-89],
];

type PanelCfg = {
  row: number; col: number; angles: number[]; stats: number[][]; outliers: number[][];
};

const PANELS: PanelCfg[] = [
  { row: 0, col: 0, angles: ANGLES_R50, stats: S1_R50, outliers: S1_R50_OUT },
  { row: 0, col: 1, angles: ANGLES_R80, stats: S1_R80, outliers: S1_R80_OUT },
  { row: 0, col: 2, angles: ANGLES_R110, stats: S1_R110, outliers: S1_R110_OUT },
  { row: 1, col: 0, angles: ANGLES_R50, stats: S3_R50, outliers: S3_R50_OUT },
  { row: 1, col: 1, angles: ANGLES_R80, stats: S3_R80, outliers: S3_R80_OUT },
  { row: 1, col: 2, angles: ANGLES_R110, stats: S3_R110, outliers: S3_R110_OUT },
  { row: 2, col: 0, angles: ANGLES_R50, stats: S5_R50, outliers: S5_R50_OUT },
  { row: 2, col: 1, angles: ANGLES_R80, stats: S5_R80, outliers: S5_R80_OUT },
  { row: 2, col: 2, angles: ANGLES_R110, stats: S5_R110, outliers: S5_R110_OUT },
];

function drawStrip(ctx: CanvasRenderingContext2D, x: number, y: number, w: number, h: number, bg: string, letter: string, value: string) {
  ctx.fillStyle = bg;
  ctx.fillRect(x, y, w, h);
  ctx.lineWidth = 2.5;
  ctx.strokeStyle = '#000';
  ctx.strokeRect(x, y, w, h);
  const italic = `italic 44px ${FONT}`;
  const normal = `44px ${FONT}`;
  ctx.font = italic;
  const w1 = ctx.measureText(letter).width;
  ctx.font = normal;
  const w2 = ctx.measureText('=').width;
  const rest = value + ' m';
  const w3 = ctx.measureText(rest).width;
  const g1 = 15, g2 = 13;
  const total = w1 + g1 + w2 + g2 + w3;
  let cx = x + w / 2 - total / 2;
  const by = y + 45;
  ctx.fillStyle = '#000';
  ctx.textAlign = 'left';
  ctx.textBaseline = 'alphabetic';
  ctx.font = italic;
  ctx.fillText(letter, cx, by);
  cx += w1 + g1;
  ctx.font = normal;
  ctx.fillText('=', cx, by);
  cx += w2 + g2;
  ctx.fillText(rest, cx, by);
}

function Panel({ cfg }: { cfg: PanelCfg }) {
  const ref = useRef<HTMLCanvasElement>(null);
  const plotLeft = PLOT_LEFT0 + cfg.col * PLOT_W;
  const plotTop = PLOT_TOP0 + cfg.row * ROW_PITCH;

  useEffect(() => {
    if (!ref.current) return;
    const { row, col, angles, stats, outliers } = cfg;
    const showTop = row === 0;
    const showBottom = row === 2;
    const showLeft = col === 0;
    const showRight = col === 2;

    const boxData = stats.map((b, i) => ({ x: angles[i], y: [b[1], b[3]] }));
    const medData = stats.map((b, i) => ({ x: angles[i], y: b[2] }));
    const whiskData: any[] = [];
    const capData: any[] = [];
    stats.forEach((b, i) => {
      const a = angles[i];
      whiskData.push({ x: a, y: b[3] }, { x: a, y: b[4] }, { x: a, y: null }, { x: a, y: b[1] }, { x: a, y: b[0] }, { x: a, y: null });
      capData.push({ x: a - CAP_HALF, y: b[4] }, { x: a + CAP_HALF, y: b[4] }, { x: a, y: null }, { x: a - CAP_HALF, y: b[0] }, { x: a + CAP_HALF, y: b[0] }, { x: a, y: null });
    });
    const outData: any[] = [];
    outliers.forEach((vals, i) => vals.forEach((v) => outData.push({ x: angles[i], y: v })));

    const tickFont = { family: FONT, size: 46 };
    const grid = (len: number) => ({
      display: true, drawOnChartArea: false, drawTicks: true, tickLength: len, offset: false,
      color: '#000', lineWidth: 2.5, tickColor: '#000', tickWidth: 2.5,
    });

    const stripPlugin = {
      id: 'latticeStrips',
      afterDraw(chart: any) {
        const { ctx, chartArea: a } = chart;
        ctx.save();
        drawStrip(ctx, a.left, a.top - 2 * STRIP_H, a.right - a.left, STRIP_H, STRIP_S_BG, 's', SD_LABELS[row]);
        drawStrip(ctx, a.left, a.top - STRIP_H, a.right - a.left, STRIP_H, STRIP_R_BG, 'r', RADIUS_LABELS[col]);
        ctx.lineWidth = 2.5;
        ctx.strokeStyle = '#000';
        ctx.strokeRect(a.left, a.top, a.right - a.left, a.bottom - a.top);
        ctx.restore();
      },
    };

    const chart = new Chart(ref.current, {
      type: 'bar',
      data: {
        datasets: [
          {
            type: 'scatter', data: medData, order: 0, xAxisID: 'x', yAxisID: 'y',
            pointStyle: 'circle', pointRadius: 5.5, pointBorderWidth: 1,
            pointBackgroundColor: '#000', pointBorderColor: '#000',
          } as any,
          {
            type: 'scatter', data: outData, order: 1, xAxisID: 'x', yAxisID: 'y',
            pointStyle: 'circle', pointRadius: 5, pointBorderWidth: 2.4,
            pointBackgroundColor: 'rgba(0,0,0,0)', pointBorderColor: TEAL,
          } as any,
          {
            type: 'bar', data: boxData, order: 2, xAxisID: 'x', yAxisID: 'y',
            backgroundColor: 'rgba(0,0,0,0)', borderColor: TEAL, borderWidth: 2.6,
            borderSkipped: false, barThickness: BOX_PX, inflateAmount: 0,
          } as any,
          {
            type: 'line', data: capData, order: 3, xAxisID: 'x', yAxisID: 'y',
            borderColor: TEAL, borderWidth: 2.6, pointRadius: 0, pointHitRadius: 0,
            fill: false, spanGaps: false, tension: 0,
          } as any,
          {
            type: 'line', data: whiskData, order: 4, xAxisID: 'x', yAxisID: 'y',
            borderColor: TEAL, borderWidth: 2.6, borderDash: [11, 10], pointRadius: 0, pointHitRadius: 0,
            fill: false, spanGaps: false, tension: 0,
          } as any,
        ],
      },
      options: {
        animation: false,
        responsive: false,
        events: [],
        layout: {
          padding: {
            left: showLeft ? 0 : M_L,
            right: showRight ? 0 : M_R,
            top: showTop ? 0 : M_T,
            bottom: showBottom ? 0 : M_B,
          },
        },
        plugins: { legend: { display: false }, tooltip: { enabled: false }, title: { display: false } },
        scales: {
          x: {
            type: 'linear', position: 'bottom', min: X_MIN, max: X_MAX, offset: false, display: showBottom,
            grid: grid(22), border: { display: false },
            ticks: { display: col !== 1, font: tickFont, color: '#000', padding: 14, maxRotation: 0, minRotation: 0, autoSkip: false, callback: (v: any) => String(v) },
            afterBuildTicks: (s: any) => { s.ticks = X_TICKS.map((v) => ({ value: v })); },
            afterFit: (s: any) => { if (showBottom) s.height = M_B; },
          },
          xTop: {
            type: 'linear', axis: 'x', position: 'top', min: X_MIN, max: X_MAX, offset: false, display: showTop,
            grid: grid(22 + 2 * STRIP_H), border: { display: false },
            ticks: { display: col === 1, font: tickFont, color: '#000', padding: 11, maxRotation: 0, minRotation: 0, autoSkip: false, callback: (v: any) => String(v) },
            afterBuildTicks: (s: any) => { s.ticks = X_TICKS.map((v) => ({ value: v })); },
            afterFit: (s: any) => { if (showTop) s.height = M_T; },
          },
          y: {
            type: 'linear', position: 'left', min: Y_MIN, max: Y_MAX, display: showLeft,
            grid: grid(22), border: { display: false },
            ticks: { display: row !== 1, font: tickFont, color: '#000', padding: 25, callback: (v: any) => (v === 20 ? '' : String(v)) },
            afterBuildTicks: (s: any) => { s.ticks = Y_TICKS.map((v) => ({ value: v })); },
            afterFit: (s: any) => { if (showLeft) s.width = M_L; },
          },
          yRight: {
            type: 'linear', axis: 'y', position: 'right', min: Y_MIN, max: Y_MAX, display: showRight,
            grid: grid(22), border: { display: false },
            ticks: { display: row === 1, font: tickFont, color: '#000', padding: 25, callback: (v: any) => (v === 20 ? '' : String(v)) },
            afterBuildTicks: (s: any) => { s.ticks = Y_TICKS.map((v) => ({ value: v })); },
            afterFit: (s: any) => { if (showRight) s.width = M_R; },
          },
        },
      } as any,
      plugins: [stripPlugin],
    });
    return () => chart.destroy();
  }, [cfg]);

  return (
    <canvas
      ref={ref}
      width={CANVAS_W}
      height={CANVAS_H}
      style={{ position: 'absolute', left: plotLeft - M_L, top: plotTop - M_T, width: CANVAS_W, height: CANVAS_H }}
    />
  );
}

export default function App() {
  useEffect(() => {
    document.body.style.margin = '0';
    document.body.style.overflow = 'hidden';
    document.body.style.background = '#fff';
  }, []);
  Chart.defaults.font.family = FONT;
  return (
    <div style={{ position: 'absolute', left: 0, top: 0, width: 3288, height: 2142, background: '#fff', overflow: 'hidden', fontFamily: FONT }}>
      <div style={{ position: 'absolute', left: 1672, top: 75 - 0.8465 * 61, fontSize: 61, lineHeight: '61px', fontWeight: 'bold', whiteSpace: 'nowrap', transform: 'translateX(-50%)', color: '#000' }}>
        Geofence alert delay as a function of intersection angle, geofence radius, and standard deviation
      </div>
      {PANELS.map((p) => (
        <Panel key={`${p.row}-${p.col}`} cfg={p} />
      ))}
      <div style={{ position: 'absolute', left: 1693, top: 2101.7 - 0.8465 * 54, fontSize: 54, lineHeight: '54px', whiteSpace: 'nowrap', transform: 'translateX(-50%)', color: '#000' }}>
        Intersection angle (degrees)
      </div>
      <div style={{ position: 'absolute', left: 53.3, top: 1134, fontSize: 54, lineHeight: '54px', whiteSpace: 'nowrap', transform: 'translate(-50%, -50%) rotate(-90deg)', color: '#000' }}>
        Time delay (s)
      </div>
    </div>
  );
}
